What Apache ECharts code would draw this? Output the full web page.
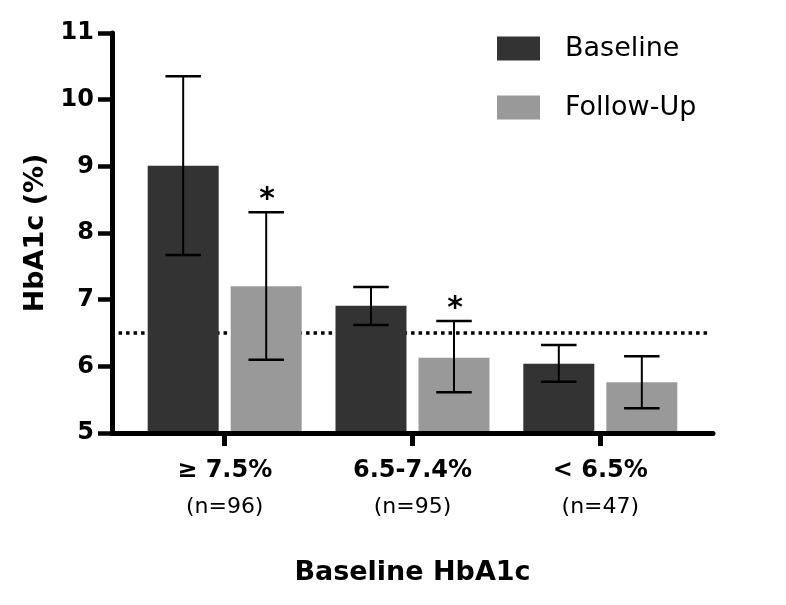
<!DOCTYPE html>
<html>
<head>
<meta charset="utf-8">
<script src="https://cdn.jsdelivr.net/npm/echarts@6/dist/echarts.min.js"></script>
<style>html,body{margin:0;padding:0;background:#fff}#c{width:786px;height:605px}</style>
</head>
<body>
<div id="c"></div>
<script>
const categories = ['≥ 7.5%', '6.5-7.4%', '< 6.5%'];
const sampleSizes = ['(n=96)', '(n=95)', '(n=47)'];
const seriesNames = ['Baseline', 'Follow-Up'];
const baselineMean = [9.01, 6.91, 6.04];
const baselineLow = [7.67, 6.62, 5.77];
const baselineHigh = [10.35, 7.19, 6.32];
const followMean = [7.20, 6.13, 5.76];
const followLow = [6.10, 5.61, 5.37];
const followHigh = [8.31, 6.68, 6.15];
const followSig = [1, 1, 0];
const baselineSig = [0, 0, 0];
const threshold = 6.5;
const yTicks = [5, 6, 7, 8, 9, 10, 11];

const FONT = '"DejaVu Sans", sans-serif';
const xMin = -0.6, xMax = 2.6, yMin = 5, yMax = 11;
const barW = 0.378;      // bar width in x-axis units
const barOff = 0.221;    // offset of each bar from the group centre

function rows(mean, low, high, sig) {
  return mean.map((m, i) => [i, m, low[i], high[i], sig[i]]);
}

function makeRender(offset, color) {
  return function (params, api) {
    const xc = api.value(0) + offset;
    const m = api.value(1), lo = api.value(2), hi = api.value(3), sig = api.value(4);
    const pTop = api.coord([xc, m]);
    const pBase = api.coord([xc, yMin]);
    const pHi = api.coord([xc, hi]);
    const pLo = api.coord([xc, lo]);
    const w = api.size([barW, 0])[0];
    const cap = w * 0.5;
    const children = [
      { type: 'rect', shape: { x: pTop[0] - w / 2, y: pTop[1], width: w, height: pBase[1] - pTop[1] },
        style: { fill: color } },
      { type: 'line', shape: { x1: pTop[0], y1: pHi[1], x2: pTop[0], y2: pLo[1] },
        style: { stroke: '#000', lineWidth: 2 } },
      { type: 'line', shape: { x1: pTop[0] - cap / 2, y1: pHi[1], x2: pTop[0] + cap / 2, y2: pHi[1] },
        style: { stroke: '#000', lineWidth: 2.5 } },
      { type: 'line', shape: { x1: pTop[0] - cap / 2, y1: pLo[1], x2: pTop[0] + cap / 2, y2: pLo[1] },
        style: { stroke: '#000', lineWidth: 2.5 } }
    ];
    if (sig) {
      children.push({ type: 'text', style: { text: '*', x: pTop[0] + 1, y: pHi[1] - 12,
        align: 'center', verticalAlign: 'middle', fontSize: 30, fontWeight: 'bold', fontFamily: FONT, fill: '#000' } });
    }
    return { type: 'group', children };
  };
}

const chart = echarts.init(document.getElementById('c'), null, { renderer: 'canvas' });
chart.setOption({
  animation: false,
  backgroundColor: '#fff',
  grid: { left: 112, right: 73, top: 33, bottom: 172 },
  legend: {
    data: seriesNames,
    orient: 'vertical', left: 497, top: 35, padding: 0,
    itemWidth: 43, itemHeight: 24, itemGap: 32, icon: 'rect',
    formatter: n => '{t|' + n + '}',
    textStyle: { rich: { t: { fontFamily: FONT, fontSize: 27, lineHeight: 24, color: '#000', padding: [0, 0, 0, 20] } } }
  },
  xAxis: {
    type: 'value', min: xMin, max: xMax, z: 10,
    splitLine: { show: false },
    axisLine: { onZero: false, lineStyle: { color: '#000', width: 5 } },
    axisTick: { customValues: [0, 1, 2], length: 13, lineStyle: { color: '#000', width: 5 } },
    axisLabel: {
      customValues: [0, 1, 2], margin: 20,
      formatter: v => { const i = Math.round(v); return '{a|' + categories[i] + '}\n{b|' + sampleSizes[i] + '}'; },
      rich: {
        a: { fontFamily: FONT, fontWeight: 'bold', fontSize: 24, lineHeight: 36, color: '#000' },
        b: { fontFamily: FONT, fontSize: 22, lineHeight: 36, color: '#000' }
      }
    },
    name: 'Baseline HbA1c', nameLocation: 'middle', nameGap: 126,
    nameTextStyle: { fontFamily: FONT, fontWeight: 'bold', fontSize: 27, color: '#000' }
  },
  yAxis: {
    type: 'value', min: yMin, max: yMax, interval: 1, z: 10,
    splitLine: { show: false },
    axisLine: { show: true, onZero: false, lineStyle: { color: '#000', width: 5 } },
    axisTick: { show: true, length: 14, lineStyle: { color: '#000', width: 4.5 } },
    axisLabel: { margin: 18, fontFamily: FONT, fontWeight: 'bold', fontSize: 24, color: '#000',
      formatter: v => (yTicks.indexOf(v) >= 0 ? String(v) : '') },
    name: 'HbA1c (%)', nameLocation: 'middle', nameGap: 63, nameRotate: 90,
    nameTextStyle: { fontFamily: FONT, fontWeight: 'bold', fontSize: 27, color: '#000' }
  },
  series: [
    {
      type: 'line', name: 'threshold', silent: true, z: 1, symbol: 'none',
      data: [[xMin + 0.035, threshold], [xMax - 0.015, threshold]],
      lineStyle: { color: '#000', width: 3.5, type: [3.5, 4] }
    },
    {
      type: 'custom', name: seriesNames[0], z: 2, itemStyle: { color: '#333333' },
      renderItem: makeRender(-barOff, '#333333'),
      encode: { x: 0, y: 1 },
      data: rows(baselineMean, baselineLow, baselineHigh, baselineSig)
    },
    {
      type: 'custom', name: seriesNames[1], z: 2, itemStyle: { color: '#999999' },
      renderItem: makeRender(barOff, '#999999'),
      encode: { x: 0, y: 1 },
      data: rows(followMean, followLow, followHigh, followSig)
    }
  ]
});
</script>
</body>
</html>
